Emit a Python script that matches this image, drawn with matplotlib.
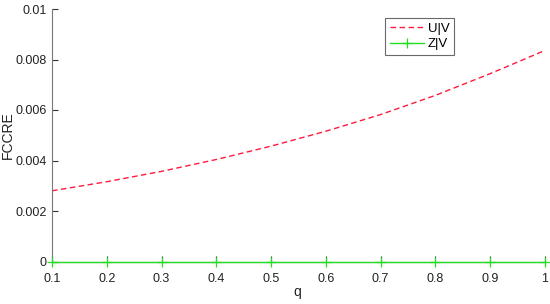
import matplotlib
matplotlib.use("Agg")
import matplotlib.pyplot as plt

plt.rcParams['font.family'] = ['Liberation Sans', 'DejaVu Sans']

q = [0.1, 0.2, 0.3, 0.4, 0.5, 0.6, 0.7, 0.8, 0.9, 1.0]
uv = [0.00280, 0.00316, 0.00357, 0.00404, 0.00457, 0.00516, 0.00582, 0.00658, 0.00744, 0.00836]
zv = [0, 0, 0, 0, 0, 0, 0, 0, 0, 0]
xticks = [0.1, 0.2, 0.3, 0.4, 0.5, 0.6, 0.7, 0.8, 0.9, 1.0]
xticklabels = ['0.1', '0.2', '0.3', '0.4', '0.5', '0.6', '0.7', '0.8', '0.9', '1']
yticks = [0, 0.002, 0.004, 0.006, 0.008, 0.01]
yticklabels = ['0', '0.002', '0.004', '0.006', '0.008', '0.01']

fig = plt.figure(figsize=(5.5, 3.04), dpi=100)
ax = fig.add_axes([52/550, 1 - 261.5/304, (545-52)/550, (261.5-9)/304])

ax.plot(q, uv, linestyle='--', color='#ff1a3c', linewidth=1.0, dashes=(4, 2.5), label='U|V')
ax.plot(q, zv, linestyle='-', color='#22dd22', linewidth=1.0, marker='+', markersize=7,
        markeredgewidth=0.9, label='Z|V', clip_on=False, zorder=5)

ax.set_xlim(0.1, 1.0)
ax.set_ylim(0, 0.01)
ax.set_xticks(xticks)
ax.set_xticklabels(xticklabels)
ax.set_yticks(yticks)
ax.set_yticklabels(yticklabels)
ax.tick_params(direction='in', length=4, width=0.8, colors='#333333', labelsize=9, labelcolor='#222222')
ax.tick_params(axis='x', pad=8)
ax.tick_params(axis='y', pad=4)
for s in ['top', 'right']:
    ax.spines[s].set_visible(False)
for s in ['left', 'bottom']:
    ax.spines[s].set_color('#777777')
    ax.spines[s].set_linewidth(0.8)

ax.set_xlabel('q', fontsize=10, color='#222222')
ax.set_ylabel('FCCRE', fontsize=10, color='#222222')
ax.xaxis.set_label_coords((297-52)/493, (261.5-285)/252.5)
ax.yaxis.set_label_coords((15-52)/493, 0.5)

leg = ax.legend(loc='upper left', bbox_to_anchor=((385-52)/493, (261.5-18)/252.5),
                fontsize=9.5, frameon=True, fancybox=False, edgecolor='#444444',
                handlelength=2.6, handletextpad=0.3, borderpad=0.35, labelspacing=0.25,
                borderaxespad=0)
leg.get_frame().set_linewidth(0.8)

fig.savefig('out.png', dpi=100)
